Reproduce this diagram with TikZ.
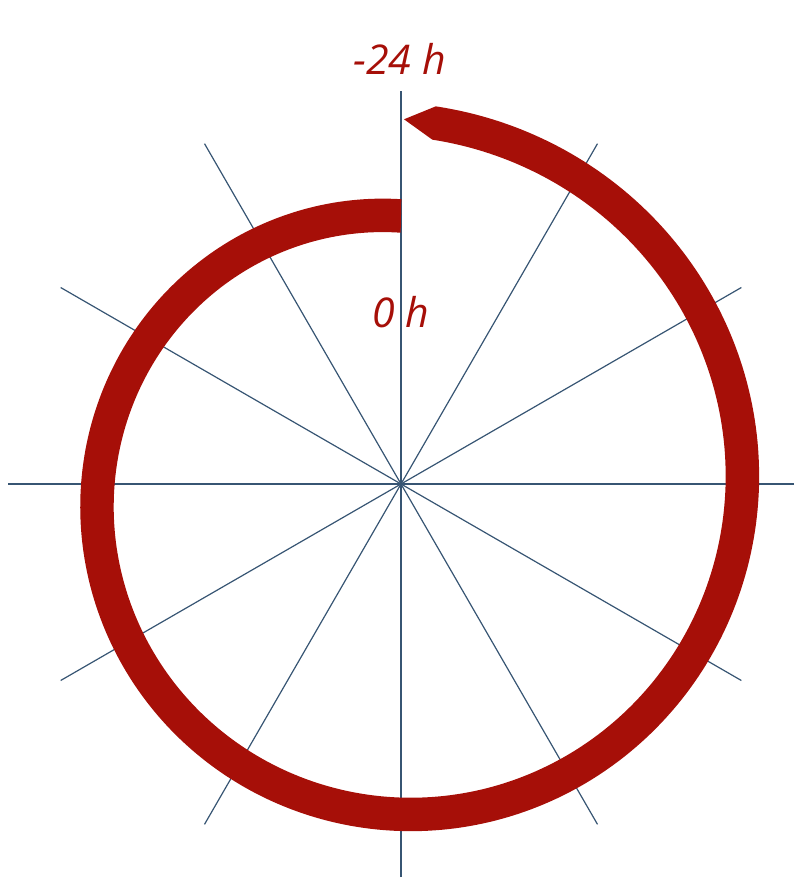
\documentclass[tikz,border=0pt]{standalone}
\usepackage{fontspec}
\setmainfont{Open Sans}
\usetikzlibrary{calc}
\definecolor{bandred}{RGB}{166,15,8}
\definecolor{spoke}{RGB}{55,85,115}
\begin{document}
\begin{tikzpicture}[x=1pt,y=-1pt,
  spokeline/.style={draw=spoke,line width=1.2pt},
  band/.style={fill=bandred},
  hourlabel/.style={text=bandred,font=\fontsize{41}{44}\selectfont\itshape,anchor=base,inner sep=0pt},
  declare function={rr(\t)=373.58-0.3120*\t+0.00011926*\t*\t;}]
\useasboundingbox (0,0) rectangle (800,878);
\coordinate (center) at (401,484);
% spokes
\foreach \a in {0,30,...,150}{
  \draw[spokeline] ($(center)+(\a:393)$) -- ($(center)+(\a+180:393)$);
}
% spiral band
\coordinate (tip) at (404,119.3);
\fill[band] (tip)
  -- plot[domain=5.95:361.13,samples=300,variable=\t]
     ({395.53+(rr(\t)+16.75)*sin(\t)},{492.72-(rr(\t)+16.75)*cos(\t)})
  -- plot[domain=361.13:5.95,samples=300,variable=\t]
     ({395.53+(rr(\t)-16.75)*sin(\t)},{492.72-(rr(\t)-16.75)*cos(\t)})
  -- cycle;
% labels
\node[hourlabel] (start) at (399.5,74) {-24 h};
\node[hourlabel] (end) at (401,327) {0 h};
\end{tikzpicture}
\end{document}
